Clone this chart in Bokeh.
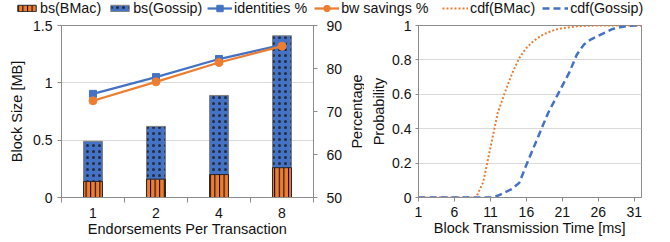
import math
from bokeh.plotting import figure
from bokeh.models import Range1d, LinearAxis, FixedTicker, Legend, LegendItem, Label
from bokeh.layouts import column, row
from bokeh.embed import file_html
from bokeh.resources import INLINE

# ---------------- data ----------------
endorsements = ["1", "2", "4", "8"]
bs_bmac = [0.14, 0.16, 0.20, 0.26]
bs_gossip = [0.49, 0.62, 0.89, 1.41]
identities_pct = [74.1, 78.0, 82.2, 85.5]
bw_savings_pct = [72.5, 76.9, 81.4, 85.2]

time_ms = list(range(1, 33))
cdf_bmac = [0, 0, 0, 0, 0, 0, 0, 0, 0,
            0.09, 0.29, 0.49, 0.61, 0.72, 0.81, 0.87, 0.91, 0.94, 0.96,
            0.975, 0.985, 0.99, 0.995, 0.997, 0.999,
            1, 1, 1, 1, 1, 1, 1]
cdf_gossip = [0, 0, 0, 0, 0, 0, 0, 0, 0, 0, 0,
              0.01, 0.03, 0.05, 0.085, 0.19, 0.29, 0.39, 0.49, 0.57, 0.65,
              0.73, 0.83, 0.89, 0.92, 0.94, 0.96, 0.98, 0.99, 0.997, 1, 1]

left_ticks = [0, 0.5, 1, 1.5]
pct_ticks = [50, 60, 70, 80, 90]
prob_ticks = [0, 0.2, 0.4, 0.6, 0.8, 1]
time_ticks = [1, 6, 11, 16, 21, 26, 31]

# ---------------- styles ----------------
BLUE = "#4472C4"
ORANGE = "#ED7D31"
AX = "#8c8c8c"
GRID = "#d9d9d9"
TXT = "#111111"
FONT = "Liberation Sans"
TICK_FS = "14px"
LAB_FS = "14.5px"
LEG_FS = "14.3px"

bmac_style = dict(fill_color=ORANGE, line_color="#262626", line_width=1,
                  hatch_pattern="|", hatch_color="black", hatch_scale=4.6, hatch_weight=1)
gossip_style = dict(fill_color=BLUE, line_color="#7f7f7f", line_width=1,
                    hatch_pattern=".", hatch_color="#1a1a1a", hatch_alpha=0.8,
                    hatch_scale=6, hatch_weight=0.5)
id_line = dict(line_color=BLUE, line_width=2.25)
id_mark = dict(marker="square", size=7, fill_color=BLUE, line_color=BLUE)
bw_line = dict(line_color=ORANGE, line_width=2.25)
bw_mark = dict(marker="circle", size=8, fill_color=ORANGE, line_color=ORANGE)
cdfb_style = dict(line_color=ORANGE, line_width=2, line_dash="2 2")
cdfg_style = dict(line_color=BLUE, line_width=2.5, line_dash="7 4")

FIG_H = 226
TOP, BOTTOM = 9, 45


def style_axis(ax):
    ax.axis_line_color = AX
    ax.major_tick_line_color = AX
    ax.major_tick_out = 4
    ax.major_tick_in = 0
    ax.minor_tick_line_color = None
    ax.major_label_text_font = FONT
    ax.major_label_text_font_size = TICK_FS
    ax.major_label_text_color = TXT
    ax.major_label_standoff = 5
    ax.axis_label_text_font = FONT
    ax.axis_label_text_font_size = LAB_FS
    ax.axis_label_text_font_style = "normal"
    ax.axis_label_text_color = TXT


def base_fig(width, x_range, y_range, left, right):
    p = figure(width=width, height=FIG_H, x_range=x_range, y_range=y_range,
               output_backend="svg", toolbar_location=None,
               min_border_left=left, min_border_right=right,
               min_border_top=TOP, min_border_bottom=BOTTOM)
    p.outline_line_color = AX
    p.background_fill_color = "white"
    p.border_fill_color = "white"
    p.xgrid.visible = False
    p.ygrid.grid_line_color = GRID
    return p


def side_text(p, text, x, y, **kw):
    p.add_layout(Label(x=x, y=y, x_units="screen", y_units="screen", text=text,
                       text_font=FONT, text_font_size=LAB_FS, text_color=TXT, **kw))


# ---------------- (a) ----------------
x_idx = list(range(len(endorsements)))
bounds = [i - 0.5 for i in x_idx] + [x_idx[-1] + 0.5]

pa = base_fig(345, Range1d(-0.5, len(endorsements) - 0.5), Range1d(0, 1.5), 61, 30)
pa.extra_y_ranges = {"pct": Range1d(pct_ticks[0], pct_ticks[-1])}

pa.vbar(x=x_idx, top=bs_gossip, width=0.3, **gossip_style)
pa.vbar(x=x_idx, top=bs_bmac, width=0.3, **bmac_style)
pa.line(x_idx, identities_pct, y_range_name="pct", **id_line)
pa.scatter(x_idx, identities_pct, y_range_name="pct", **id_mark)
pa.line(x_idx, bw_savings_pct, y_range_name="pct", **bw_line)
pa.scatter(x_idx, bw_savings_pct, y_range_name="pct", **bw_mark)

ya = pa.yaxis[0]
ya.ticker = FixedTicker(ticks=left_ticks)
pa.ygrid.ticker = FixedTicker(ticks=left_ticks)
ya.major_label_overrides = {0: "0", 1: "1"}
ya.axis_label = "Block Size [MB]"
style_axis(ya)
ya.axis_label_standoff = 5

xa = pa.xaxis[0]
xa.ticker = FixedTicker(ticks=x_idx, minor_ticks=bounds)
xa.major_label_overrides = {i: c for i, c in zip(x_idx, endorsements)}
xa.axis_label = "Endorsements Per Transaction"
style_axis(xa)
xa.major_tick_line_color = None
xa.minor_tick_line_color = AX
xa.minor_tick_out = 5
xa.minor_tick_in = 0
xa.major_label_standoff = 5
xa.axis_label_standoff = 0

ra = LinearAxis(y_range_name="pct", ticker=FixedTicker(ticks=pct_ticks))
style_axis(ra)
ra.major_label_standoff = 9
pa.add_layout(ra, "right")

side_text(pa, "(a)", -45, -31, text_font_style="bold",
          text_baseline="middle", text_align="left")

# ---------------- strip that carries the right-axis title of (a) ----------------
# (a left-side axis title reads bottom-to-top, as in the reference)
pt = figure(width=19, height=FIG_H, x_range=Range1d(0, 1), y_range=Range1d(0, 1),
            output_backend="svg", toolbar_location=None,
            min_border_left=0, min_border_right=0, min_border_top=TOP,
            min_border_bottom=BOTTOM, x_axis_location=None, y_axis_location="left")
pt.outline_line_color = None
pt.grid.visible = False
pt.yaxis.ticker = FixedTicker(ticks=[0])
pt.yaxis.major_label_overrides = {0: ""}
pt.yaxis.axis_line_color = None
pt.yaxis.major_tick_line_color = None
pt.yaxis.major_label_text_font_size = "1px"
pt.yaxis.major_tick_out = 0
pt.yaxis.major_label_standoff = 0
pt.yaxis.axis_label = "Percentage"
pt.yaxis.axis_label_standoff = 0
pt.yaxis.axis_label_text_font = FONT
pt.yaxis.axis_label_text_font_size = LAB_FS
pt.yaxis.axis_label_text_font_style = "normal"
pt.yaxis.axis_label_text_color = TXT

# ---------------- (b) ----------------
pb = base_fig(306, Range1d(1, 32), Range1d(0, 1), 54, 29)
pb.line(time_ms, cdf_bmac, **cdfb_style)
pb.line(time_ms, cdf_gossip, **cdfg_style)

yb = pb.yaxis[0]
yb.ticker = FixedTicker(ticks=prob_ticks)
pb.ygrid.ticker = FixedTicker(ticks=prob_ticks)
yb.major_label_overrides = {0: "0", 1: "1"}
yb.axis_label = "Probability"
style_axis(yb)
yb.major_tick_out = 3
yb.major_label_standoff = 4
yb.axis_label_standoff = 2

xb = pb.xaxis[0]
xb.ticker = FixedTicker(ticks=time_ticks)
xb.axis_label = "Block Transmission Time [ms]"
style_axis(xb)
xb.major_label_standoff = 5
xb.axis_label_standoff = 0

side_text(pb, "(b)", -45, -31, text_font_style="bold",
          text_baseline="middle", text_align="left")

# ---------------- legend strip ----------------
pl = figure(width=670, height=16, x_range=Range1d(-10, -9), y_range=Range1d(0, 1),
            output_backend="svg", toolbar_location=None, min_border=0,
            x_axis_location=None, y_axis_location=None)
pl.grid.visible = False
pl.outline_line_color = None

lr_bmac = pl.vbar(x=x_idx, top=bs_bmac, width=0.3, **bmac_style)
lr_goss = pl.vbar(x=x_idx, top=bs_gossip, width=0.3, **gossip_style)
lr_idl = pl.line(x_idx, identities_pct, **id_line)
lr_idm = pl.scatter(x_idx, identities_pct, **id_mark)
lr_bwl = pl.line(x_idx, bw_savings_pct, **bw_line)
lr_bwm = pl.scatter(x_idx, bw_savings_pct, **bw_mark)
lr_cb = pl.line(time_ms, cdf_bmac, **cdfb_style)
lr_cg = pl.line(time_ms, cdf_gossip, **cdfg_style)

common = dict(orientation="horizontal", label_standoff=2, spacing=7,
              padding=0, margin=0, border_line_color=None, background_fill_alpha=0,
              label_text_font=FONT, label_text_font_size=LEG_FS, label_text_color=TXT,
              label_height=16)

leg1 = Legend(items=[LegendItem(label="bs(BMac)", renderers=[lr_bmac]),
                     LegendItem(label="bs(Gossip)", renderers=[lr_goss])],
              location=(15, 0), glyph_width=23, glyph_height=8, **common)
leg2 = Legend(items=[LegendItem(label="identities %", renderers=[lr_idl, lr_idm]),
                     LegendItem(label="bw savings %", renderers=[lr_bwl, lr_bwm])],
              location=(207, 0), glyph_width=25, glyph_height=16, **common)
leg3 = Legend(items=[LegendItem(label="cdf(BMac)", renderers=[lr_cb]),
                     LegendItem(label="cdf(Gossip)", renderers=[lr_cg])],
              location=(442, 0), glyph_width=26, glyph_height=16, **common)
pl.add_layout(leg1, "center")
pl.add_layout(leg2, "center")
pl.add_layout(leg3, "center")

layout = column(pl, row(pa, pt, pb, spacing=0), spacing=0)

with open("out.html", "w") as f:
    f.write(file_html(layout, INLINE))
